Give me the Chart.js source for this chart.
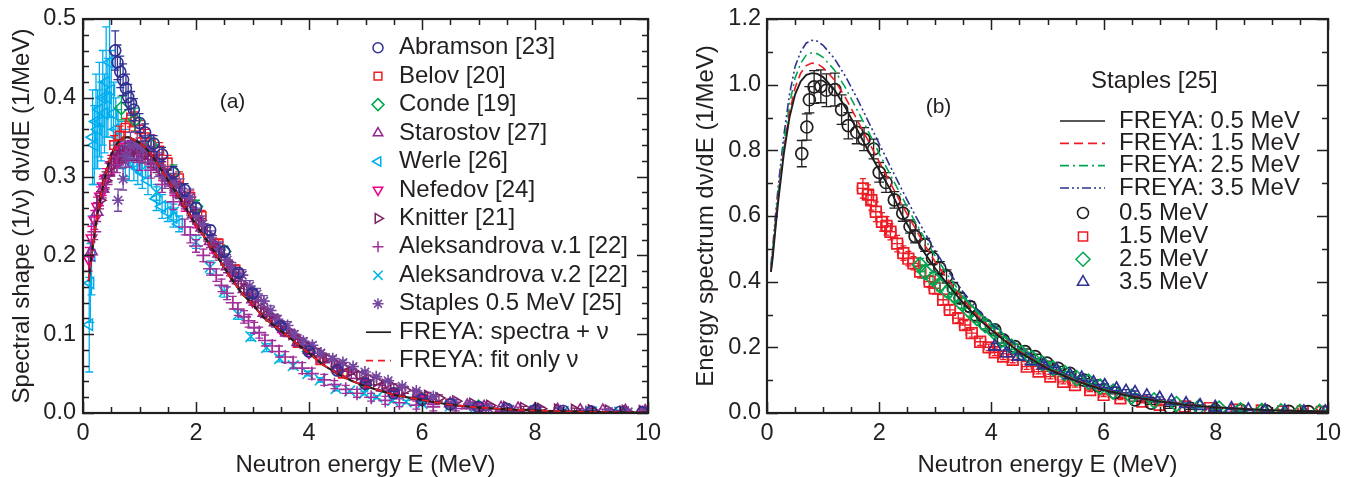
<!DOCTYPE html>
<html><head><meta charset="utf-8">
<script src="https://cdn.jsdelivr.net/npm/chart.js@4/dist/chart.umd.min.js"></script>
<style>
html,body{margin:0;padding:0;background:#fff;width:1356px;height:477px;overflow:hidden}
#wa{position:absolute;left:0;top:0;width:680px;height:477px}
#wb{position:absolute;left:680px;top:0;width:676px;height:477px}
canvas{display:block}
</style></head><body>
<div id="wa"><canvas id="ca" width="680" height="477"></canvas></div>
<div id="wb"><canvas id="cb" width="676" height="477"></canvas></div>
<script>
// ---------------- Tick values / labels ----------------
const xTickValues = [0, 2, 4, 6, 8, 10];
const xTickLabels = ['0', '2', '4', '6', '8', '10'];
const aYTickValues = [0, 0.1, 0.2, 0.3, 0.4, 0.5];
const aYTickLabels = ['0.0', '0.1', '0.2', '0.3', '0.4', '0.5'];
const bYTickValues = [0, 0.2, 0.4, 0.6, 0.8, 1.0, 1.2];
const bYTickLabels = ['0.0', '0.2', '0.4', '0.6', '0.8', '1.0', '1.2'];

// ---------------- Panel (a) data ----------------
const aFreyaE = [0.1,0.15,0.2,0.25,0.3,0.4,0.5,0.6,0.7,0.8,0.9,1.0,1.1,1.2,1.3,1.4,1.5,1.6,1.7,1.8,1.9,2.0,2.2,2.4,2.6,2.8,3.0,3.2,3.4,3.6,3.8,4.0,4.25,4.5,4.75,5.0,5.5,6.0,6.5,7.0,7.5,8.0,8.5,9.0,9.5,10];
const aSpectraY = [0.167,0.2,0.225,0.25,0.27,0.303,0.328,0.342,0.349,0.35,0.347,0.343,0.337,0.329,0.318,0.307,0.296,0.285,0.274,0.262,0.25,0.239,0.218,0.196,0.173,0.153,0.138,0.121,0.11,0.099,0.087,0.076,0.061,0.05,0.041,0.034,0.023,0.0165,0.0105,0.007,0.0047,0.0031,0.0021,0.0014,0.0009,0.0006];
const aFitY = [0.168,0.2,0.226,0.25,0.271,0.303,0.328,0.342,0.349,0.35,0.347,0.343,0.337,0.329,0.318,0.307,0.296,0.285,0.274,0.262,0.25,0.239,0.218,0.196,0.173,0.153,0.138,0.121,0.11,0.099,0.087,0.076,0.061,0.05,0.041,0.034,0.023,0.0165,0.0105,0.007,0.0047,0.0031,0.0021,0.0014,0.0009,0.0006];

const abrE = [0.57,0.61,0.66,0.71,0.76,0.8,0.85,0.9,1.0,1.1,1.25,1.4,1.6,1.8,2.0,2.25,2.5,2.75,3.0,3.5,4.0,4.5,5.0,5.5,6.0,6.5,7.0,7.5,8.0,8.5,9.0,9.5,9.9];
const abrY = [0.46,0.445,0.433,0.423,0.412,0.401,0.393,0.385,0.368,0.356,0.342,0.328,0.305,0.283,0.26,0.232,0.205,0.178,0.152,0.11,0.078,0.054,0.037,0.025,0.017,0.011,0.0075,0.005,0.0035,0.0025,0.0018,0.0012,0.0008];
const abrErr = [0.025,0.022,0.02,0.02,0.018,0.016,0.015,0.014,0.012,0.011,0.01,0.009,0.008,0.008,0.007,0.006,0.006,0.005,0.005,0.004,0.003,0.003,0.002,0.002,0.0015,0.001,0.001,0.001,0.001,0.001,0.001,0.001,0.001];

const belE = [0.55,0.65,0.75,0.85,0.92,1.0,1.1,1.2,1.35,1.5,1.7,1.9,2.1,2.4,2.7,3.0,3.4,3.8,4.2,4.6,5.0,5.5,6.0,6.5,7.0];
const belY = [0.34,0.352,0.362,0.375,0.37,0.36,0.35,0.343,0.333,0.318,0.298,0.274,0.25,0.215,0.182,0.152,0.117,0.089,0.067,0.05,0.037,0.026,0.018,0.012,0.008];
const belErr = [0.012,0.012,0.012,0.012,0.012,0.011,0.01,0.01,0.01,0.009,0.008,0.008,0.007,0.006,0.006,0.005,0.004,0.004,0.003,0.003,0.002,0.002,0.002,0.001,0.001];

const conE = [0.68,0.92,1.2,1.6,2.0,2.5,3.0,3.5,4.0,5.0,6.0,7.0];
const conY = [0.387,0.372,0.34,0.305,0.262,0.205,0.152,0.11,0.078,0.036,0.017,0.008];
const conErr = [0.015,0.015,0.012,0.01,0.008,0.007,0.005,0.004,0.003,0.002,0.001,0.001];

const staE = [0.15,0.25,0.35,0.45,0.55,0.65,0.75,0.85,0.95,1.05,1.15,1.25,1.35,1.5,1.65,1.8,1.95,2.1,2.25,2.4,2.55,2.7,2.85,3.0,3.2,3.4,3.6,3.8,4.0,4.25,4.5,4.75,5.0,5.3,5.6,5.9,6.2,6.5,6.8,7.1,7.4,7.7,8.0,8.4,8.8,9.2,9.6,9.95];
const staY = [0.205,0.255,0.285,0.305,0.318,0.327,0.332,0.334,0.333,0.33,0.326,0.32,0.312,0.298,0.284,0.268,0.252,0.235,0.218,0.202,0.186,0.171,0.157,0.144,0.127,0.115,0.102,0.09,0.08,0.068,0.057,0.048,0.04,0.032,0.026,0.021,0.015,0.012,0.0095,0.0078,0.0065,0.0055,0.0047,0.004,0.0035,0.003,0.0028,0.0025];
const staErr = [0.012,0.012,0.012,0.012,0.012,0.012,0.012,0.012,0.012,0.012,0.011,0.011,0.01,0.01,0.01,0.009,0.009,0.009,0.008,0.008,0.008,0.007,0.007,0.007,0.006,0.006,0.005,0.005,0.005,0.004,0.004,0.004,0.003,0.003,0.003,0.002,0.002,0.002,0.002,0.002,0.002,0.002,0.002,0.002,0.002,0.002,0.002,0.002];

const werE = [0.11,0.13,0.15,0.17,0.2,0.23,0.26,0.29,0.32,0.35,0.38,0.41,0.44,0.47,0.5,0.54,0.58,0.62,0.68,0.75,0.82,0.9,0.97,1.05,1.15,1.3,1.4,1.5,1.6,1.7];
const werY = [0.112,0.165,0.2,0.35,0.34,0.37,0.36,0.385,0.37,0.4,0.38,0.42,0.4,0.445,0.41,0.38,0.36,0.35,0.34,0.33,0.32,0.315,0.31,0.305,0.295,0.272,0.262,0.255,0.248,0.24];
const werErr = [0.06,0.05,0.05,0.06,0.05,0.06,0.05,0.06,0.05,0.06,0.05,0.07,0.05,0.07,0.05,0.04,0.04,0.035,0.03,0.03,0.025,0.02,0.02,0.02,0.018,0.015,0.015,0.012,0.012,0.01];

const nefE = [0.1,0.15,0.2,0.25,0.3,0.35,0.4,0.5,0.6,0.7,0.8,0.9,1.0,1.2,1.4,1.6,1.8,2.0,2.3,2.6,3.0,3.5,4.0,4.5,5.0,5.5,6.0,7.0,8.0];
const nefY = [0.195,0.222,0.245,0.262,0.275,0.288,0.298,0.315,0.325,0.33,0.333,0.333,0.33,0.322,0.305,0.286,0.265,0.243,0.21,0.18,0.142,0.106,0.077,0.055,0.038,0.026,0.018,0.008,0.004];
const nefErr = [0.015,0.015,0.012,0.012,0.012,0.012,0.012,0.012,0.012,0.012,0.012,0.012,0.012,0.011,0.01,0.01,0.009,0.008,0.007,0.006,0.005,0.004,0.003,0.003,0.002,0.002,0.002,0.001,0.001];

const kniE = [0.3,0.4,0.5,0.6,0.7,0.8,0.9,1.0,1.1,1.2,1.3,1.4,1.5,1.6,1.7,1.8,1.9,2.0,2.1,2.2,2.3,2.4,2.5,2.6,2.7,2.8,2.9,3.0,3.1,3.2,3.3,3.4,3.5,3.6,3.7,3.8,3.9,4.0,4.15,4.3,4.45,4.6,4.75,4.9,5.05,5.2,5.35,5.5,5.7,5.9,6.1,6.3,6.6,6.9,7.2,7.5,7.8,8.1,8.4,8.7,9.0,9.3,9.6,9.9];
const kniY = [0.27,0.295,0.312,0.322,0.328,0.331,0.332,0.331,0.328,0.323,0.316,0.308,0.3,0.291,0.281,0.271,0.26,0.249,0.238,0.227,0.216,0.206,0.195,0.185,0.175,0.165,0.156,0.148,0.14,0.132,0.124,0.118,0.112,0.106,0.1,0.094,0.089,0.084,0.077,0.07,0.064,0.058,0.053,0.048,0.044,0.04,0.036,0.033,0.029,0.025,0.022,0.019,0.015,0.012,0.0095,0.0078,0.0065,0.0055,0.0048,0.0042,0.0037,0.0033,0.003,0.0028];
const kniErr = [0.011,0.011,0.011,0.011,0.011,0.011,0.011,0.011,0.011,0.011,0.011,0.011,0.009,0.009,0.009,0.009,0.009,0.009,0.009,0.009,0.009,0.009,0.007,0.007,0.007,0.007,0.007,0.007,0.007,0.007,0.007,0.007,0.005,0.005,0.005,0.005,0.005,0.005,0.005,0.005,0.005,0.005,0.004,0.004,0.004,0.004,0.004,0.004,0.004,0.004,0.004,0.004,0.002,0.002,0.002,0.002,0.002,0.002,0.002,0.002,0.002,0.002,0.002,0.002];

const al1E = [0.2,0.4,0.6,0.8,1.0,1.2,1.4,1.6,1.8,1.9,2.0,2.13,2.25,2.36,2.45,2.55,2.65,2.74,2.85,2.93,3.03,3.12,3.22,3.35,3.47,3.58,3.72,3.88,4.05,4.27,4.45,4.65,4.85,5.1,5.35,5.6,5.9,6.2,6.6,7.0,7.5,8.0,8.5,9.0,9.5,9.9];
const al1Y = [0.23,0.29,0.315,0.322,0.318,0.308,0.29,0.268,0.236,0.226,0.212,0.2,0.183,0.175,0.162,0.152,0.14,0.132,0.122,0.117,0.108,0.102,0.092,0.085,0.078,0.071,0.064,0.057,0.05,0.042,0.036,0.03,0.025,0.02,0.016,0.013,0.01,0.0078,0.0058,0.0043,0.003,0.0022,0.0016,0.0012,0.0009,0.0006];
const al1Err = [0.01,0.01,0.01,0.01,0.01,0.01,0.01,0.01,0.01,0.01,0.008,0.008,0.008,0.008,0.008,0.008,0.008,0.008,0.008,0.008,0.007,0.007,0.007,0.007,0.007,0.007,0.007,0.007,0.007,0.007,0.005,0.005,0.005,0.005,0.005,0.005,0.005,0.005,0.003,0.003,0.003,0.003,0.002,0.002,0.002,0.002];

const al2E = [1.3,1.6,2.0,2.25,2.5,2.75,2.97,3.25,3.48,3.72,3.98,4.2,4.48,4.72,4.98,5.2,5.48,5.72,6.0,6.5,6.93,7.5,8.0,8.5,9.0,9.5,9.94];
const al2Y = [0.28,0.255,0.217,0.185,0.154,0.125,0.097,0.083,0.069,0.06,0.05,0.042,0.031,0.028,0.025,0.02,0.016,0.014,0.012,0.009,0.006,0.004,0.003,0.002,0.0015,0.001,0.0005];
const al2Err = [0.01,0.01,0.008,0.008,0.007,0.006,0.005,0.005,0.004,0.004,0.003,0.003,0.003,0.002,0.002,0.002,0.002,0.002,0.002,0.001,0.001,0.001,0.001,0.001,0.001,0.001,0.001];

const stpE = [0.62,0.71,0.755,0.84,0.96,1.06,1.21,1.33,1.45,1.6,1.73,1.9,2.0,2.12,2.27,2.42,2.55,2.64,2.82,2.95,3.08,3.2,3.32,3.44,3.62,3.74,3.9,4.06,4.21,4.42,4.6,4.78,4.99,5.19,5.4,5.65,5.9,6.2,6.56,6.85,7.18,7.55,7.99,8.45,8.9,9.3,9.65,9.95];
const stpY = [0.27,0.297,0.326,0.339,0.34,0.335,0.336,0.315,0.299,0.292,0.285,0.274,0.25,0.24,0.222,0.208,0.194,0.184,0.175,0.161,0.151,0.142,0.13,0.119,0.111,0.1,0.091,0.086,0.076,0.069,0.064,0.059,0.052,0.046,0.041,0.034,0.028,0.021,0.014,0.01,0.0058,0.0048,0.0031,0.0027,0.002,0.0017,0.0014,0.001];
const stpErr = [0.014,0.014,0.014,0.017,0.017,0.017,0.017,0.015,0.014,0.012,0.012,0.01,0.01,0.01,0.009,0.009,0.007,0.007,0.007,0.007,0.007,0.007,0.006,0.005,0.005,0.004,0.004,0.0035,0.0035,0.003,0.003,0.0025,0.002,0.002,0.002,0.002,0.0015,0.0015,0.0015,0.0015,0.001,0.001,0.001,0.001,0.001,0.001,0.001,0.001];

// ---------------- Panel (b) data ----------------
const bLineE = [0.07,0.1,0.15,0.2,0.3,0.4,0.5,0.6,0.7,0.8,0.9,1.0,1.2,1.4,1.6,1.8,2.0,2.2,2.4,2.6,2.8,3.0,3.25,3.5,3.75,4.0,4.5,5.0,5.5,6.0,6.5,7.0,7.5,8.0,8.5,9.0,9.5,10];
const freya05 = [0.43,0.47,0.56,0.645,0.79,0.9,0.97,1.01,1.03,1.035,1.033,1.023,0.985,0.93,0.865,0.8,0.74,0.68,0.605,0.545,0.49,0.44,0.385,0.335,0.29,0.252,0.185,0.135,0.098,0.07,0.05,0.035,0.024,0.017,0.012,0.008,0.006,0.004];
const freya15 = [0.43,0.48,0.57,0.655,0.8,0.915,0.99,1.035,1.058,1.066,1.063,1.052,1.015,0.96,0.895,0.83,0.765,0.7,0.635,0.575,0.515,0.46,0.4,0.345,0.297,0.256,0.188,0.137,0.1,0.071,0.051,0.036,0.025,0.017,0.012,0.0085,0.006,0.004];
const freya25 = [0.44,0.49,0.585,0.67,0.82,0.94,1.02,1.065,1.09,1.097,1.094,1.083,1.045,0.99,0.925,0.86,0.79,0.725,0.66,0.595,0.535,0.477,0.413,0.356,0.306,0.263,0.193,0.14,0.102,0.073,0.052,0.037,0.026,0.018,0.0125,0.009,0.006,0.004];
const freya35 = [0.45,0.5,0.6,0.69,0.845,0.97,1.055,1.1,1.127,1.135,1.132,1.12,1.08,1.025,0.96,0.89,0.82,0.75,0.682,0.615,0.553,0.493,0.427,0.368,0.316,0.271,0.198,0.144,0.104,0.075,0.053,0.038,0.027,0.019,0.013,0.009,0.0065,0.0045];

const s05E = [0.62,0.71,0.755,0.84,0.96,1.06,1.21,1.33,1.45,1.6,1.73,1.9,2.0,2.12,2.27,2.42,2.55,2.64,2.82,2.95,3.08,3.2,3.32,3.44,3.62,3.74,3.9,4.06,4.21,4.42,4.6,4.78,4.99,5.19,5.4,5.65,5.9,6.2,6.56,6.85,7.18,7.55,7.99,8.45,8.9,9.3,9.65,9.95];
const s05Y = [0.79,0.871,0.954,0.993,0.995,0.983,0.985,0.924,0.875,0.855,0.834,0.804,0.733,0.702,0.649,0.609,0.568,0.538,0.512,0.472,0.441,0.416,0.38,0.35,0.324,0.294,0.268,0.253,0.223,0.202,0.187,0.172,0.152,0.136,0.121,0.1,0.083,0.062,0.04,0.03,0.017,0.014,0.009,0.008,0.006,0.005,0.004,0.003];
const s05Err = [0.04,0.04,0.04,0.05,0.05,0.05,0.05,0.045,0.04,0.035,0.035,0.03,0.03,0.03,0.025,0.025,0.02,0.02,0.02,0.02,0.02,0.02,0.018,0.015,0.015,0.012,0.012,0.01,0.01,0.008,0.008,0.007,0.006,0.006,0.005,0.005,0.004,0.004,0.004,0.004,0.003,0.003,0.003,0.003,0.003,0.003,0.003,0.003];

const s15E = [1.71,1.8,1.86,1.94,2.05,2.13,2.2,2.32,2.43,2.52,2.61,2.73,2.9,2.99,3.14,3.26,3.41,3.53,3.65,3.8,3.95,4.06,4.21,4.38,4.63,4.84,5.05,5.28,5.49,5.76,6.0,6.3,6.69,7.0,7.45,7.9,8.37,8.82,9.2,9.55,9.89];
const s15Y = [0.684,0.665,0.648,0.613,0.582,0.57,0.552,0.516,0.487,0.47,0.456,0.431,0.4,0.38,0.345,0.314,0.289,0.268,0.243,0.217,0.2,0.185,0.172,0.162,0.141,0.126,0.111,0.095,0.085,0.07,0.055,0.045,0.035,0.025,0.02,0.015,0.01,0.008,0.005,0.005,0.003];
const s15Err = [0.03,0.03,0.03,0.03,0.028,0.028,0.025,0.025,0.022,0.022,0.02,0.02,0.018,0.018,0.016,0.015,0.014,0.013,0.012,0.011,0.01,0.01,0.009,0.009,0.008,0.007,0.007,0.006,0.006,0.005,0.005,0.004,0.004,0.003,0.003,0.003,0.002,0.002,0.002,0.002,0.002];
const s15ErrE = [0.1,0.1,0.1,0.1,0.1,0.1,0.1,0.1,0.1,0.1,0.1,0.1,0.1,0.1,0.1,0.1,0.1,0.1,0.1,0.1,0.08,0.08,0.08,0.08,0.08,0.08,0.08,0.08,0.08,0.08,0.08,0.08,0.08,0.08,0.08,0.08,0.08,0.08,0.08,0.08,0.08];

const s25E = [2.73,2.82,2.96,3.08,3.23,3.35,3.47,3.62,3.74,3.89,4.04,4.18,4.36,4.54,4.72,4.9,5.1,5.31,5.52,5.73,5.94,6.17,6.5,6.9,7.3,7.7,8.06,8.44,8.82,9.16,9.5,9.85];
const s25Y = [0.451,0.43,0.41,0.39,0.37,0.355,0.334,0.309,0.289,0.268,0.248,0.223,0.202,0.182,0.167,0.152,0.136,0.121,0.106,0.095,0.08,0.065,0.05,0.038,0.027,0.018,0.013,0.008,0.006,0.005,0.003,0.003];
const s25Err = [0.02,0.02,0.018,0.018,0.016,0.016,0.015,0.014,0.013,0.012,0.011,0.01,0.009,0.008,0.008,0.007,0.006,0.006,0.005,0.005,0.004,0.004,0.003,0.003,0.003,0.002,0.002,0.002,0.002,0.002,0.002,0.002];

const s35E = [4.06,4.27,4.48,4.72,4.93,5.16,5.4,5.61,5.82,6.02,6.23,6.4,6.56,6.77,7.0,7.21,7.47,7.72,7.99,8.28,8.58,8.88,9.23,9.57,9.95];
const s35Y = [0.202,0.182,0.172,0.157,0.146,0.131,0.116,0.106,0.092,0.083,0.073,0.066,0.062,0.052,0.045,0.036,0.028,0.022,0.017,0.013,0.009,0.007,0.005,0.003,0.003];
const s35Err = [0.01,0.01,0.009,0.009,0.008,0.008,0.007,0.007,0.006,0.006,0.005,0.005,0.005,0.004,0.004,0.004,0.003,0.003,0.003,0.003,0.002,0.002,0.002,0.002,0.002];

// ---------------- Styling ----------------
const INK = '#231f20';
const FONT = "'Liberation Sans', Arial, Helvetica, sans-serif";
Chart.defaults.font.family = FONT;
Chart.defaults.color = INK;

const C = {
  abr: '#2e3192', bel: '#ed1c24', con: '#00a651', sta: '#92278f', wer: '#00aeef',
  nef: '#ec008c', kni: '#7b2161', al1: '#a0309a', al2: '#00b5e2', stp: '#7446a0',
  red: '#ed1c24', green: '#00a651', blue: '#2e3192'
};

function pts(xs, ys) { return xs.map((v, i) => ({ x: v, y: ys[i] })); }
function marks(label, xs, ys, err, color, style, radius, order, extra) {
  return Object.assign({
    label, data: pts(xs, ys), errY: err, borderColor: color, backgroundColor: 'rgba(0,0,0,0)',
    pointStyle: style, pointRadius: radius, pointBorderWidth: 1.6, pointHoverRadius: radius,
    showLine: false, order, errColor: color, capSize: 4, errWidth: 1.3
  }, extra || {});
}
function curve(label, xs, ys, color, width, dash, order) {
  return { label, data: pts(xs, ys), borderColor: color, backgroundColor: color, borderWidth: width,
    borderDash: dash, showLine: true, pointRadius: 0, pointHoverRadius: 0, fill: false, tension: 0, order };
}

// ---------------- Plugins ----------------
const errorBarPlugin = {
  id: 'errorBars',
  beforeDatasetDraw(chart, args) {
    const ds = chart.data.datasets[args.index];
    if (!ds.errY && !ds.errX) return;
    const { ctx, chartArea: a } = chart;
    const xs = chart.scales.x, ys = chart.scales.y;
    ctx.save();
    ctx.beginPath(); ctx.rect(a.left, a.top, a.right - a.left, a.bottom - a.top); ctx.clip();
    ctx.strokeStyle = ds.errColor || ds.borderColor;
    ctx.lineWidth = ds.errWidth || 1.2;
    const cap = ds.capSize || 4;
    ds.data.forEach((p, i) => {
      const px = xs.getPixelForValue(p.x), py = ys.getPixelForValue(p.y);
      ctx.beginPath();
      if (ds.errY && ds.errY[i]) {
        const y1 = ys.getPixelForValue(p.y - ds.errY[i]), y2 = ys.getPixelForValue(p.y + ds.errY[i]);
        ctx.moveTo(px, y1); ctx.lineTo(px, y2);
        ctx.moveTo(px - cap, y1); ctx.lineTo(px + cap, y1);
        ctx.moveTo(px - cap, y2); ctx.lineTo(px + cap, y2);
      }
      if (ds.errX && ds.errX[i]) {
        const x1 = xs.getPixelForValue(p.x - ds.errX[i]), x2 = xs.getPixelForValue(p.x + ds.errX[i]);
        ctx.moveTo(x1, py); ctx.lineTo(x2, py);
        ctx.moveTo(x1, py - cap); ctx.lineTo(x1, py + cap);
        ctx.moveTo(x2, py - cap); ctx.lineTo(x2, py + cap);
      }
      ctx.stroke();
    });
    ctx.restore();
  }
};

const frameTicksPlugin = {
  id: 'frameTicks',
  afterDraw(chart, args, o) {
    const { ctx, chartArea: a } = chart;
    const xs = chart.scales.x, ys = chart.scales.y;
    ctx.save();
    ctx.strokeStyle = INK; ctx.lineWidth = 1.5;
    const nX = Math.round((xs.max - xs.min) / o.xMinor);
    for (let i = 0; i <= nX; i++) {
      const v = xs.min + i * o.xMinor;
      const major = Math.abs(v / o.xMajor - Math.round(v / o.xMajor)) < 1e-6;
      const L = major ? o.major : o.minor;
      const px = Math.round(xs.getPixelForValue(v)) + 0.5;
      ctx.beginPath();
      ctx.moveTo(px, a.bottom); ctx.lineTo(px, a.bottom - L);
      ctx.moveTo(px, a.top); ctx.lineTo(px, a.top + L);
      ctx.stroke();
    }
    const nY = Math.round((ys.max - ys.min) / o.yMinor);
    for (let i = 0; i <= nY; i++) {
      const v = ys.min + i * o.yMinor;
      const major = Math.abs(v / o.yMajor - Math.round(v / o.yMajor)) < 1e-6;
      const L = major ? o.major : o.minor;
      const py = Math.round(ys.getPixelForValue(v)) + 0.5;
      ctx.beginPath();
      ctx.moveTo(a.left, py); ctx.lineTo(a.left + L, py);
      ctx.moveTo(a.right, py); ctx.lineTo(a.right - L, py);
      ctx.stroke();
    }
    ctx.lineWidth = 2.2;
    ctx.strokeRect(a.left, a.top, a.right - a.left, a.bottom - a.top);
    ctx.restore();
  }
};

function drawSymbol(ctx, style, rotation, radius, x, y, color) {
  ctx.save();
  ctx.strokeStyle = color; ctx.fillStyle = 'rgba(0,0,0,0)'; ctx.lineWidth = 1.5;
  if (Chart.helpers && Chart.helpers.drawPoint) {
    Chart.helpers.drawPoint(ctx, { pointStyle: style, rotation: rotation || 0, radius, borderWidth: 1.5 }, x, y);
  } else {
    ctx.beginPath(); ctx.arc(x, y, radius, 0, Math.PI * 2); ctx.stroke();
  }
  ctx.restore();
}

const legendPlugin = {
  id: 'customLegend',
  afterDraw(chart, args, o) {
    const ctx = chart.ctx;
    ctx.save();
    ctx.textBaseline = 'middle'; ctx.textAlign = 'left'; ctx.fillStyle = INK;
    (o.texts || []).forEach(t => {
      ctx.font = t.size + 'px ' + FONT;
      ctx.textAlign = t.align || 'left';
      ctx.fillText(t.text, t.x, t.y);
    });
    ctx.textAlign = 'left';
    ctx.font = o.size + 'px ' + FONT;
    o.items.forEach((it) => {
      const y = it.y;
      if (it.line) {
        ctx.save();
        ctx.strokeStyle = it.color; ctx.lineWidth = it.width || 1.6;
        ctx.setLineDash(it.dash || []);
        ctx.beginPath(); ctx.moveTo(o.lineX0, y); ctx.lineTo(o.lineX1, y); ctx.stroke();
        ctx.restore();
        ctx.fillText(it.text, o.lineTextX, y);
      } else {
        drawSymbol(ctx, it.style, it.rotation, it.radius || 5, o.symX, y, it.color);
        ctx.fillText(it.text, o.textX, y);
      }
    });
    ctx.restore();
  }
};

function axisConfig(tickValues, tickLabels, min, max, titleText, isY, fitSize, titlePad, tickPad) {
  return {
    type: 'linear', min, max,
    afterBuildTicks: s => { s.ticks = tickValues.map(v => ({ value: v })); },
    afterFit: s => { if (isY) s.width = fitSize; else s.height = fitSize; },
    ticks: { callback: (v, i) => tickLabels[i], font: { size: 23.5, lineHeight: 1 }, color: INK, padding: tickPad, autoSkip: false, maxRotation: 0 },
    grid: { display: false, drawTicks: false },
    border: { display: false },
    title: { display: true, text: titleText, color: INK, font: { size: 24, lineHeight: 1 }, padding: titlePad }
  };
}

// ---------------- Chart (a) ----------------
const aDatasets = [
  curve('FREYA: fit only ν', aFreyaE, aFitY, C.red, 1.7, [7, 5], -2),
  curve('FREYA: spectra + ν', aFreyaE, aSpectraY, INK, 2.2, [], -1),
  marks('Abramson [23]', abrE, abrY, abrErr, C.abr, 'circle', 5.5, 1),
  marks('Staples 0.5 MeV [25]', stpE, stpY, stpErr, C.stp, 'star', 6, 2),
  marks('Aleksandrova v.1 [22]', al1E, al1Y, al1Err, C.al1, 'cross', 7, 3),
  marks('Knitter [21]', kniE, kniY, kniErr, C.kni, 'triangle', 6, 4, { pointRotation: 90 }),
  marks('Starostov [27]', staE, staY, staErr, C.sta, 'triangle', 6.5, 5),
  marks('Aleksandrova v.2 [22]', al2E, al2Y, al2Err, C.al2, 'crossRot', 7.5, 6),
  marks('Nefedov [24]', nefE, nefY, nefErr, C.nef, 'triangle', 6, 7, { pointRotation: 180 }),
  marks('Conde [19]', conE, conY, conErr, C.con, 'rectRot', 6.5, 8),
  marks('Belov [20]', belE, belY, belErr, C.bel, 'rect', 6, 9),
  marks('Werle [26]', werE, werY, werErr, C.wer, 'triangle', 6.5, 10, { pointRotation: -90 })
];

const aLegendY0 = 47.7, aLegendDY = 28.45;
const aLegendItems = [
  { text: 'Abramson [23]', style: 'circle', color: C.abr, radius: 5 },
  { text: 'Belov [20]', style: 'rect', color: C.bel, radius: 5.5 },
  { text: 'Conde [19]', style: 'rectRot', color: C.con, radius: 6 },
  { text: 'Starostov [27]', style: 'triangle', color: C.sta, radius: 5.5 },
  { text: 'Werle [26]', style: 'triangle', rotation: -90, color: C.wer, radius: 5.5 },
  { text: 'Nefedov [24]', style: 'triangle', rotation: 180, color: C.nef, radius: 5.5 },
  { text: 'Knitter [21]', style: 'triangle', rotation: 90, color: C.kni, radius: 5.5 },
  { text: 'Aleksandrova v.1 [22]', style: 'cross', color: C.al1, radius: 5.5 },
  { text: 'Aleksandrova v.2 [22]', style: 'crossRot', color: C.al2, radius: 6.5 },
  { text: 'Staples 0.5 MeV [25]', style: 'star', color: C.stp, radius: 5.5 },
  { text: 'FREYA: spectra + ν', line: true, color: INK, width: 1.7 },
  { text: 'FREYA: fit only ν', line: true, color: C.red, dash: [7, 5], width: 1.7 }
].map((it, i) => Object.assign(it, { y: aLegendY0 + i * aLegendDY }));

new Chart(document.getElementById('ca'), {
  type: 'scatter',
  data: { datasets: aDatasets },
  options: {
    responsive: false, animation: false, devicePixelRatio: 1,
    layout: { padding: { left: 0, top: 19, right: 32, bottom: 0 } },
    scales: {
      x: axisConfig(xTickValues, xTickLabels, 0, 10, 'Neutron energy E (MeV)', false, 64, { top: 0, bottom: 0 }, 9),
      y: axisConfig(aYTickValues, aYTickLabels, 0, 0.5, 'Spectral shape (1/ν) dν/dE (1/MeV)', true, 83, { top: 10, bottom: 0 }, 7)
    },
    plugins: {
      legend: { display: false }, tooltip: { enabled: false },
      frameTicks: { xMajor: 2, xMinor: 0.5, yMajor: 0.1, yMinor: 0.02, major: 11, minor: 6 },
      customLegend: {
        size: 24, symX: 378, textX: 399, lineX0: 366, lineX1: 391, lineTextX: 399,
        items: aLegendItems,
        texts: [{ text: '(a)', x: 232.5, y: 102, size: 21, align: 'center' }]
      }
    }
  },
  plugins: [errorBarPlugin, frameTicksPlugin, legendPlugin]
});

// ---------------- Chart (b) ----------------
const bDatasets = [
  curve('FREYA: 0.5 MeV', bLineE, freya05, INK, 1.9, [], -4),
  curve('FREYA: 1.5 MeV', bLineE, freya15, C.red, 1.6, [9, 5], -3),
  curve('FREYA: 2.5 MeV', bLineE, freya25, C.green, 1.6, [9, 4, 2, 4], -2),
  curve('FREYA: 3.5 MeV', bLineE, freya35, C.blue, 1.6, [9, 3, 2, 3, 2, 3], -1),
  marks('3.5 MeV', s35E, s35Y, s35Err, C.blue, 'triangle', 7, 1, { pointBorderWidth: 1.7 }),
  marks('2.5 MeV', s25E, s25Y, s25Err, C.green, 'rectRot', 7.5, 2, { pointBorderWidth: 1.7 }),
  marks('0.5 MeV', s05E, s05Y, s05Err, INK, 'circle', 6, 3, { pointBorderWidth: 1.7, capSize: 5 }),
  marks('1.5 MeV', s15E, s15Y, s15Err, C.red, 'rect', 7.5, 4, { pointBorderWidth: 1.7, errX: s15ErrE, capSize: 3 })
];

const bLegendItems = [
  { text: 'FREYA: 0.5 MeV', line: true, color: INK, width: 1.7, y: 121 },
  { text: 'FREYA: 1.5 MeV', line: true, color: C.red, dash: [9, 5], width: 1.7, y: 143.3 },
  { text: 'FREYA: 2.5 MeV', line: true, color: C.green, dash: [9, 4, 2, 4], width: 1.7, y: 165.7 },
  { text: 'FREYA: 3.5 MeV', line: true, color: C.blue, dash: [9, 3, 2, 3, 2, 3], width: 1.7, y: 188 },
  { text: '0.5 MeV', style: 'circle', color: INK, radius: 5.5, y: 213 },
  { text: '1.5 MeV', style: 'rect', color: C.red, radius: 6.5, y: 236.5 },
  { text: '2.5 MeV', style: 'rectRot', color: C.green, radius: 7, y: 259.3 },
  { text: '3.5 MeV', style: 'triangle', color: C.blue, radius: 6.5, y: 282 }
];

new Chart(document.getElementById('cb'), {
  type: 'scatter',
  data: { datasets: bDatasets },
  options: {
    responsive: false, animation: false, devicePixelRatio: 1,
    layout: { padding: { left: 0, top: 19, right: 28, bottom: 0 } },
    scales: {
      x: axisConfig(xTickValues, xTickLabels, 0, 10, 'Neutron energy E (MeV)', false, 64, { top: 0, bottom: 0 }, 9),
      y: axisConfig(bYTickValues, bYTickLabels, 0, 1.2, 'Energy spectrum dν/dE (1/MeV)', true, 87, { top: 14, bottom: 0 }, 6)
    },
    plugins: {
      legend: { display: false }, tooltip: { enabled: false },
      frameTicks: { xMajor: 2, xMinor: 0.5, yMajor: 0.2, yMinor: 0.1, major: 11, minor: 6 },
      customLegend: {
        size: 24, symX: 403, textX: 439, lineX0: 380, lineX1: 425, lineTextX: 439,
        items: bLegendItems,
        texts: [
          { text: 'Staples [25]', x: 411, y: 81, size: 24, align: 'left' },
          { text: '(b)', x: 258.5, y: 107, size: 21, align: 'center' }
        ]
      }
    }
  },
  plugins: [errorBarPlugin, frameTicksPlugin, legendPlugin]
});
</script>
</body></html>
